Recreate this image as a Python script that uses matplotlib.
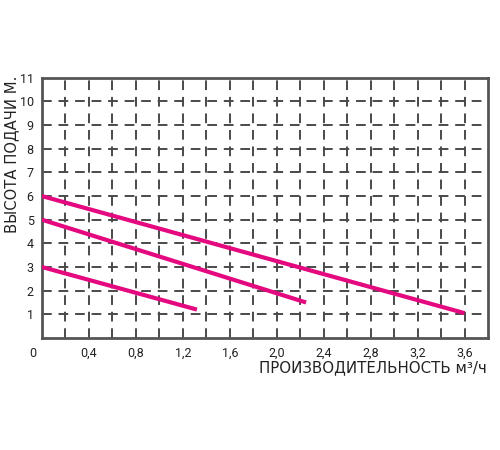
import matplotlib
matplotlib.use("Agg")
import matplotlib.pyplot as plt

# pump curves: flow (m3/h) vs head (m)
flow_small = [0.0, 1.32]
head_small = [3.0, 1.2]
flow_mid = [0.0, 2.25]
head_mid = [5.0, 1.5]
flow_big = [0.0, 3.6]
head_big = [6.0, 1.05]

xticks = [0.4, 0.8, 1.2, 1.6, 2.0, 2.4, 2.8, 3.2, 3.6]
xtick_labels = ["0,4", "0,8", "1,2", "1,6", "2,0", "2,4", "2,8", "3,2", "3,6"]
yticks = list(range(1, 12))

plt.rcParams['font.family'] = ['Roboto', 'DejaVu Sans']

fig = plt.figure(figsize=(5, 4.5), dpi=100)
ax = fig.add_axes([0.084, 0.249, 0.892, 0.578])

grid_col = "#4a4a4a"
for i in range(1, 19):
    ax.axvline(i * 0.2, color=grid_col, lw=1.4, ls=(0, (5, 3.5)), zorder=1)
for y in range(1, 11):
    ax.axhline(y, color=grid_col, lw=1.4, ls=(0, (5, 3.5)), zorder=1)

pink = "#e5097f"
for fx, hy in [(flow_small, head_small), (flow_mid, head_mid), (flow_big, head_big)]:
    ax.plot(fx, hy, color=pink, lw=3, solid_capstyle='butt', zorder=3)

ax.set_xlim(0, 3.8)
ax.set_ylim(0, 11)
ax.set_xticks(xticks)
ax.set_xticklabels(xtick_labels)
ax.set_yticks(yticks)
ax.tick_params(length=0, labelsize=9, colors="#222222", pad=6)
for s in ax.spines.values():
    s.set_color("#555555")
    s.set_linewidth(2)

ax.text(-0.05, -0.4, "0", ha="right", va="top", fontsize=9, color="#222222")

fig.text(0.974, 0.182, "ПРОИЗВОДИТЕЛЬНОСТЬ м³/ч", ha="right", va="center",
         fontsize=10.8, family="DejaVu Sans", color="#222222")
fig.text(0.024, 0.656, "ВЫСОТА ПОДАЧИ М.", rotation=90, ha="center", va="center",
         fontsize=10.6, family="DejaVu Sans", color="#222222")

fig.savefig("out.png", dpi=100)
